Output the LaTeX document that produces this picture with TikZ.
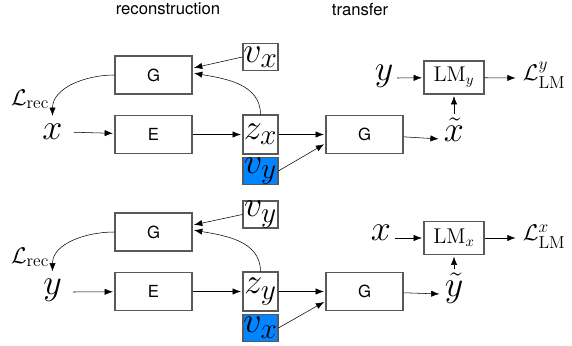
\RequirePackage{fix-cm}
\documentclass[tikz,border=0pt]{standalone}
\usepackage{amsmath}
\usepackage[no-math]{fontspec}
\newfontfamily\helv{TeX Gyre Heros}
\usepackage{tikz}
\usetikzlibrary{positioning, arrows.meta, calc}
\DeclareMathSizes{27}{27}{22}{16}
\DeclareMathSizes{17}{17}{13}{10}
\DeclareMathSizes{16}{16}{11}{8}
\definecolor{noiseblue}{RGB}{0,132,255}
\newcommand{\LangModel}[1]{\mathrm{LM}_{#1}}
\newcommand{\LMLoss}[1]{\mathcal{L}^{#1}_{\mathrm{LM}}}
\newcommand{\RecLoss}{\mathcal{L}_{\mathrm{rec}}}
\tikzset{
    block/.style={draw=black!65, line width=1pt, minimum width=57.75pt, minimum height=28.5pt, inner sep=0pt, font=\helv\fontsize{12.5}{14}\selectfont},
    latent/.style={draw=black!65, line width=1pt, minimum width=26.25pt, minimum height=29.25pt, inner sep=0pt, font=\fontsize{27}{30}\selectfont},
    attr/.style={latent, minimum height=20.25pt},
    sym/.style={inner sep=2.5pt, font=\fontsize{27}{30}\selectfont},
    src/.style={sym, inner xsep=8pt, inner ysep=4.5pt},
    loss/.style={inner sep=4pt, font=\fontsize{17}{20}\selectfont},
    lm/.style={draw=black!65, line width=1pt, minimum width=45pt, minimum height=24.75pt, inner sep=0pt, font=\fontsize{16}{18}\selectfont},
    title/.style={font=\helv\fontsize{12.5}{14}\selectfont},
}
\begin{document}
\begin{tikzpicture}
    \tikzset{
      ->,
      >={Latex[length=7.5pt,width=5.5pt]},
      x=0.75pt, y=0.75pt,
      line width=0.9pt
    }
    \useasboundingbox (0,0) rectangle (572,-346);

    \node[title] (qh) at (168,-9) {reconstruction};
    \node[title] (ph) at (360,-10) {transfer};

    % x -> reconstruction and transfer
    \node[block] (qg) at (153.5,-75) {G};
    \node[block] (qe) at (153.5,-134.5) {E};
    \node[src, anchor=mid] (qx) at (52.5,-136.5) {$x$};
    \node[latent] (qz) at (260.5,-134.5) {$z_x$};
    \node[attr] (qv) at (260.5,-57) {$v_x$};
    \node[attr, fill=noiseblue, below=1.5pt of qz] (qn) {$v_y$};
    \node[block] (qt) at (364.5,-134.5) {G};
    \node[sym, anchor=mid] (qo) at (454,-139) {$\tilde{x}$};
    \node[lm] (ql) at (454,-77.5) {$\LangModel{y}$};
    \node[sym, anchor=mid] (qi) at (384,-78) {$y$};
    \node[loss, anchor=mid west] (qL) at (517,-78) {$\LMLoss{y}$};
    \node[loss] (qr) at (30,-99) {$\RecLoss$};

    \draw (qx) -- (qe);
    \draw (qe) -- (qz);
    \draw (qz) -- (qt);
    \draw (qn.east) -- (qt.193);
    \draw (qv.west) -- (qg.10);
    \draw (qz.north) to[out=90, in=-10] (qg.3);
    \draw (qg.west) to[out=180, in=90] (qx.north);
    \draw (qt) -- (qo.mid west);
    \draw (qo) -- (ql);
    \draw (qi.mid east) -- (ql);
    \draw (ql) -- (qL.mid west);

    % y -> reconstruction and transfer
    \node[block] (pg) at (153.5,-232) {G};
    \node[block] (pe) at (153.5,-291.5) {E};
    \node[src, anchor=mid] (py) at (52.5,-292) {$y$};
    \node[latent] (pz) at (260.5,-291.5) {$z_y$};
    \node[attr] (pv) at (260.5,-214.5) {$v_y$};
    \node[attr, fill=noiseblue, below=1.5pt of pz] (pn) {$v_x$};
    \node[block] (pt) at (364.5,-291.5) {G};
    \node[sym, anchor=mid] (po) at (454,-294) {$\tilde{y}$};
    \node[lm] (pl) at (454,-238) {$\LangModel{x}$};
    \node[sym, anchor=mid] (pi) at (381,-238) {$x$};
    \node[loss, anchor=mid west] (pL) at (517,-238) {$\LMLoss{x}$};
    \node[loss] (pr) at (30,-257) {$\RecLoss$};

    \draw (py.mid east) -- (pe);
    \draw (pe) -- (pz);
    \draw (pz) -- (pt);
    \draw (pn.east) -- (pt.194);
    \draw (pv.west) -- (pg.10);
    \draw (pz.north) to[out=90, in=-10] (pg.3);
    \draw (pg.west) to[out=180, in=90] (py.north);
    \draw (pt) -- (po.mid west);
    \draw (po) -- (pl);
    \draw (pi.mid east) -- (pl);
    \draw (pl) -- (pL.mid west);
\end{tikzpicture}
\end{document}
